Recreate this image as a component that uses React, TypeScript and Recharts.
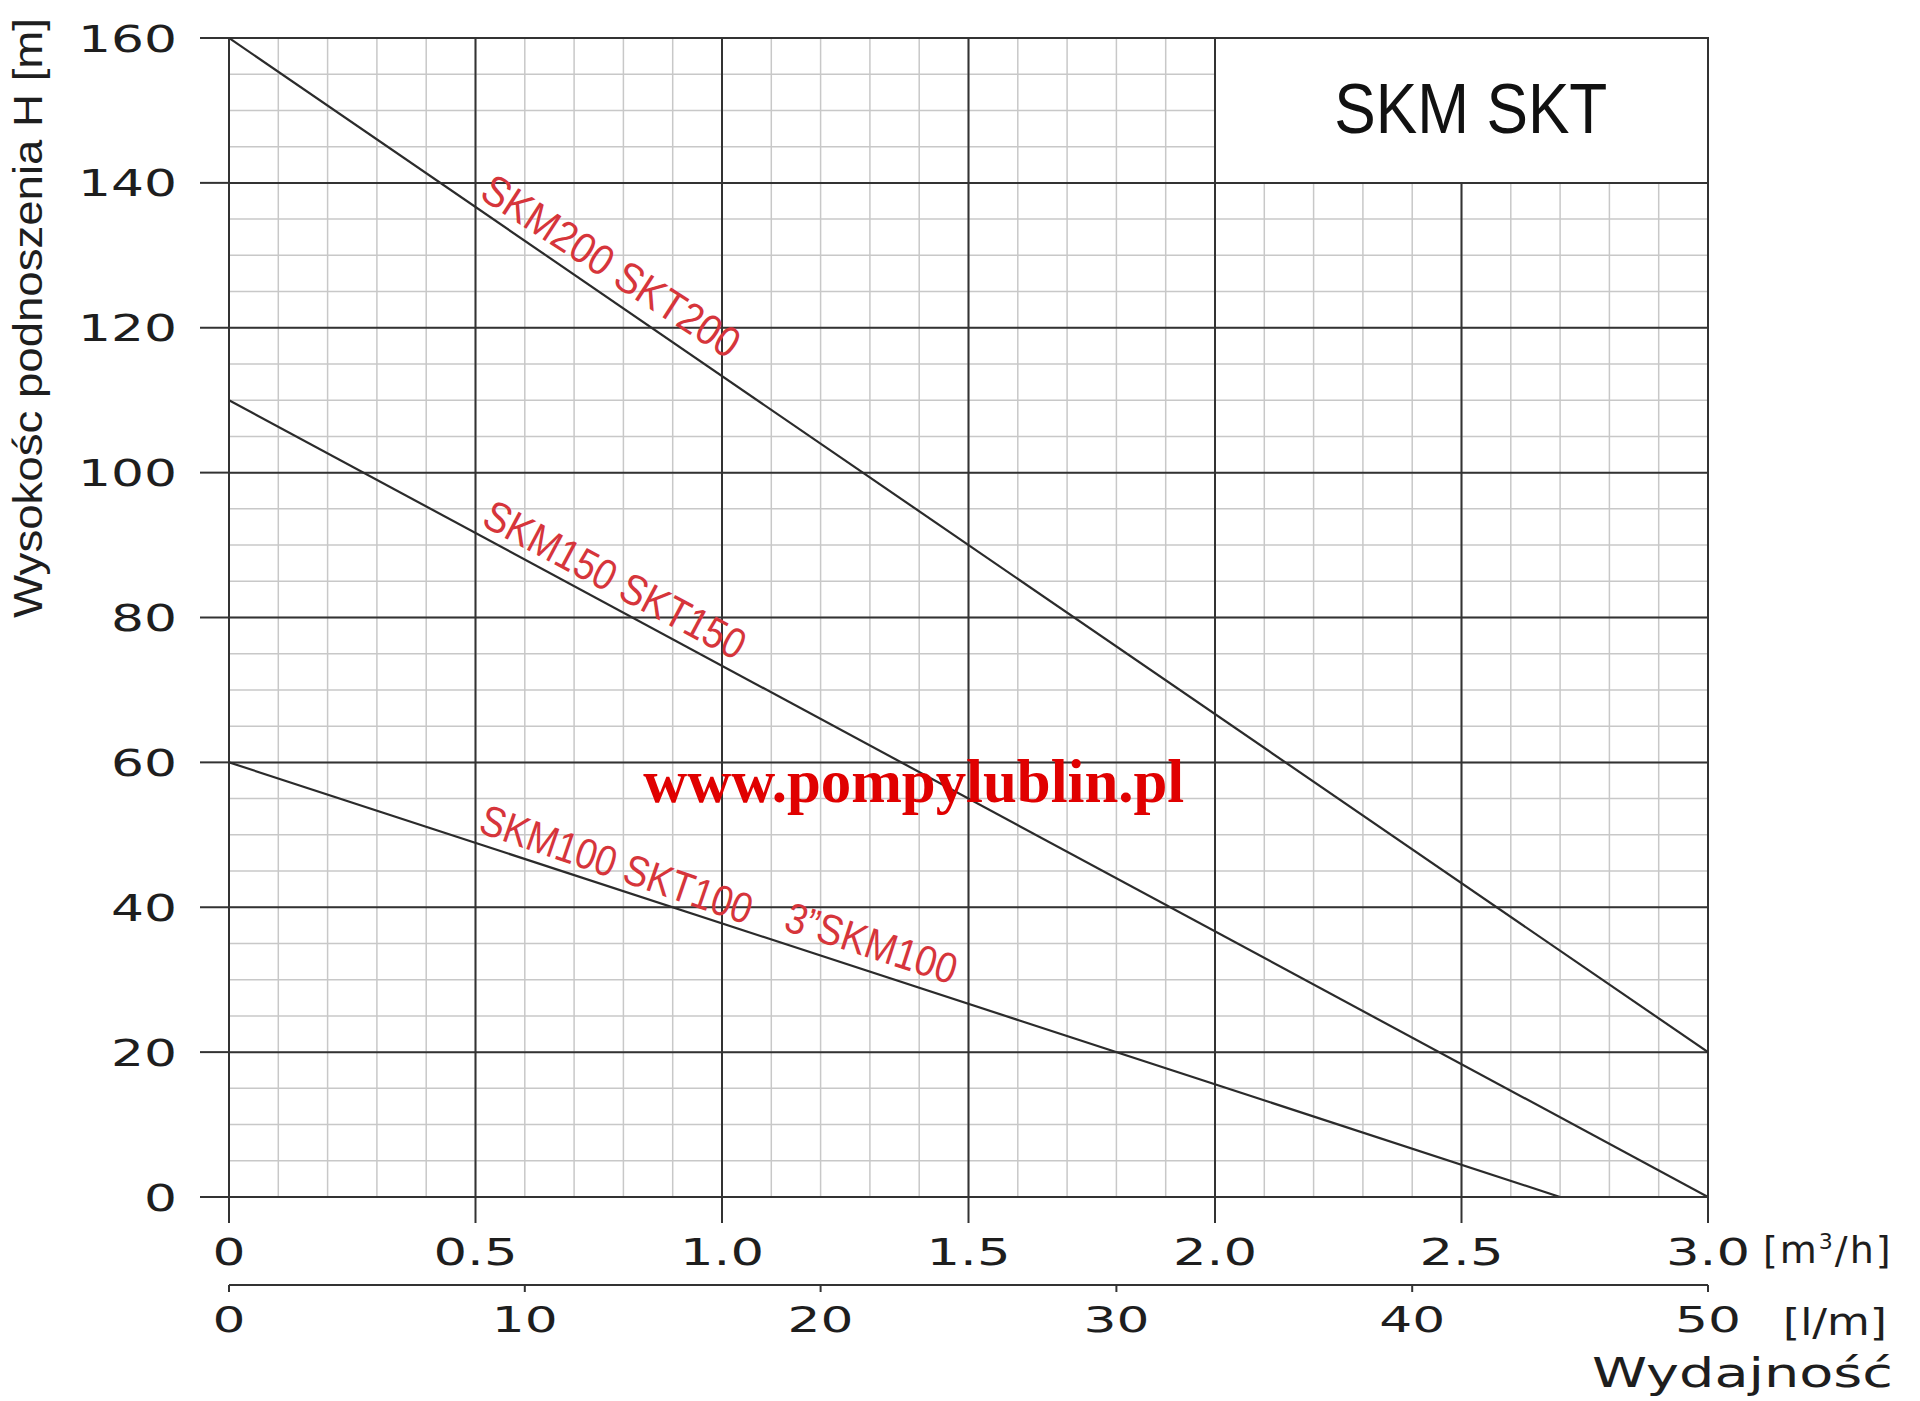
import React from 'react'
import {
  LineChart,
  Line,
  XAxis,
  YAxis,
  CartesianGrid,
  ReferenceArea,
  ReferenceDot,
  ReferenceLine,
} from 'recharts'

// flow [m3/h] ticks and their printed labels
const Q_TICKS = [0, 0.5, 1.0, 1.5, 2.0, 2.5, 3.0]
const Q_LABELS = ['0', '0.5', '1.0', '1.5', '2.0', '2.5', '3.0']
// flow [l/min] ticks
const LM_TICKS = [0, 10, 20, 30, 40, 50]
// head [m] ticks
const H_TICKS = [0, 20, 40, 60, 80, 100, 120, 140, 160]

// pump curves (straight lines on this sheet)
const SKM200_Q = [0, 3.0]
const SKM200_H = [160, 20]
const SKM150_Q = [0, 3.0]
const SKM150_H = [110, 0]
const SKM100_Q = [0, 2.7]
const SKM100_H = [60, 0]

// axis ranges (50 l/min = 3 m3/h)
const Q_RANGE = [0, 3]
const LM_RANGE = [0, 50]
const H_RANGE = [0, 160]

// fine grid
const MINOR_Q = Array.from({ length: 31 }, (_, i) => i / 10)
const MINOR_H = Array.from({ length: 33 }, (_, i) => i * 5)

const toPoints = (q: number[], h: number[]) => q.map((v, i) => ({ q: v, h: h[i] }))

const SKM200 = toPoints(SKM200_Q, SKM200_H)
const SKM150 = toPoints(SKM150_Q, SKM150_H)
const SKM100 = toPoints(SKM100_Q, SKM100_H)
const LM_BIND = LM_RANGE.map((v) => ({ lm: v, h: 0 }))

// the l/min scale sits below the plot; its baseline expressed in head units
const LM_AXIS_AT = -12.15

const CURVE_LABELS = [
  { text: 'SKM200 SKT200', q: 0.505, h: 138.0, angle: 33, len: 298 },
  { text: 'SKM150 SKT150', q: 0.509, h: 92.8, angle: 28, len: 290 },
  { text: 'SKM100 SKT100', q: 0.503, h: 50.4, angle: 19, len: 285 },
  { text: '3”SKM100', q: 1.122, h: 36.9, angle: 18, len: 178 },
]

const C = {
  major: '#333333',
  minor: '#c8c8c8',
  curve: '#2b2b2b',
  red:   '#d6353b',
  text:  '#1e1e1e',
}

const AXIS_STROKE = { stroke: C.major, strokeWidth: 2 }
const MARGIN = { top: 38, right: 212, bottom: 56, left: 0 }

const WIDE = 'DejaVu Sans, sans-serif'
const SANS = 'Liberation Sans, Arial, sans-serif'

const wideLen = (s: string) => s.split('').reduce((a, ch) => a + (ch === '.' ? 18 : 33), 0)

function HTick({ x, y, payload }: any) {
  const s = String(payload.value)
  return (
    <text x={x} y={y + 13.5} textAnchor="end" fontFamily={WIDE} fontSize={37} fill={C.text}
      textLength={wideLen(s)} lengthAdjust="spacingAndGlyphs">
      {s}
    </text>
  )
}

function QTick({ x, y, payload }: any) {
  const s = Q_LABELS[Q_TICKS.indexOf(payload.value)] ?? String(payload.value)
  return (
    <text x={x} y={y + 28} textAnchor="middle" fontFamily={WIDE} fontSize={37} fill={C.text}
      textLength={wideLen(s)} lengthAdjust="spacingAndGlyphs">
      {s}
    </text>
  )
}

// tick mark + label of the l/min scale
function lmTickShape(v: number) {
  return (p: any) => {
    const s = String(v)
    return (
      <g>
        <line x1={p.cx} y1={p.cy} x2={p.cx} y2={p.cy + 7} stroke={C.major} strokeWidth={2} />
        <text x={p.cx} y={p.cy + 47} textAnchor="middle" fontFamily={WIDE} fontSize={35} fill={C.text}
          textLength={wideLen(s)} lengthAdjust="spacingAndGlyphs">
          {s}
        </text>
      </g>
    )
  }
}

function curveLabel(l: typeof CURVE_LABELS[number]) {
  return (p: any) => (
    <text
      x={p.cx}
      y={p.cy}
      transform={`rotate(${l.angle} ${p.cx} ${p.cy})`}
      fontFamily={SANS}
      fontSize={43}
      fill={C.red}
      textLength={l.len}
      lengthAdjust="spacingAndGlyphs"
    >
      {l.text}
    </text>
  )
}

const titleShape = (p: any) => (
  <text x={p.cx} y={p.cy} textAnchor="middle" fontFamily={SANS} fontSize={71}
    fill="#111" textLength={273} lengthAdjust="spacingAndGlyphs">
    SKM SKT
  </text>
)

const watermarkShape = (p: any) => (
  <text x={p.cx} y={p.cy} textAnchor="middle" fontFamily="Liberation Serif, Times New Roman, serif"
    fontWeight="bold" fontSize={62} fill="#e00000" textLength={541} lengthAdjust="spacingAndGlyphs">
    www.pompylublin.pl
  </text>
)

export default function App() {
  return (
    <div style={{ position: 'absolute', left: 0, top: 0, width: 1920, height: 1401, background: '#fff' }}>
      <LineChart width={1920} height={1401} margin={MARGIN}>
        <XAxis
          xAxisId="q"
          type="number"
          dataKey="q"
          domain={Q_RANGE}
          ticks={Q_TICKS}
          interval={0}
          allowDataOverflow
          height={148}
          tickSize={26}
          tickMargin={14}
          tick={QTick}
          axisLine={AXIS_STROKE}
          tickLine={AXIS_STROKE}
        />
        <YAxis
          yAxisId="h"
          type="number"
          domain={H_RANGE}
          ticks={H_TICKS}
          interval={0}
          allowDataOverflow
          width={229}
          tickSize={29}
          tickMargin={23}
          tick={HTick}
          axisLine={AXIS_STROKE}
          tickLine={AXIS_STROKE}
        />
        {/* helper scales: l/min and the fine grid (no space reserved) */}
        <XAxis xAxisId="lm" type="number" dataKey="lm" domain={LM_RANGE} ticks={LM_TICKS}
          allowDataOverflow hide height={0} />
        <XAxis xAxisId="minor" type="number" dataKey="q" domain={Q_RANGE} ticks={MINOR_Q}
          allowDataOverflow hide height={0} />
        <YAxis yAxisId="minor" type="number" domain={H_RANGE} ticks={MINOR_H}
          allowDataOverflow hide width={0} />

        <CartesianGrid xAxisId="minor" yAxisId="minor" stroke={C.minor} strokeWidth={1.5} />
        <CartesianGrid xAxisId="q" yAxisId="h" stroke={C.major} strokeWidth={2} />

        {/* blank title box in the top-right corner */}
        <ReferenceArea xAxisId="q" yAxisId="h" x1={2} x2={3} y1={140} y2={160}
          fill="#ffffff" fillOpacity={1} stroke={C.major} strokeWidth={2} />
        <ReferenceArea xAxisId="q" yAxisId="h" x1={0} x2={3} y1={0} y2={160}
          fill="none" fillOpacity={0} stroke={C.major} strokeWidth={2} />

        {/* invisible series that binds the l/min scale */}
        <Line xAxisId="lm" yAxisId="h" data={LM_BIND} dataKey="h"
          stroke="none" dot={false} activeDot={false} isAnimationActive={false} />

        <Line xAxisId="q" yAxisId="h" data={SKM200} dataKey="h" type="linear"
          stroke={C.curve} strokeWidth={2.2} dot={false} activeDot={false} isAnimationActive={false} />
        <Line xAxisId="q" yAxisId="h" data={SKM150} dataKey="h" type="linear"
          stroke={C.curve} strokeWidth={2.2} dot={false} activeDot={false} isAnimationActive={false} />
        <Line xAxisId="q" yAxisId="h" data={SKM100} dataKey="h" type="linear"
          stroke={C.curve} strokeWidth={2.2} dot={false} activeDot={false} isAnimationActive={false} />

        {/* secondary flow scale in l/min */}
        <ReferenceLine
          xAxisId="lm"
          yAxisId="h"
          segment={[{ x: LM_RANGE[0], y: LM_AXIS_AT }, { x: LM_RANGE[1], y: LM_AXIS_AT }]}
          stroke={C.major}
          strokeWidth={2}
          ifOverflow="visible"
        />
        {LM_TICKS.map((v) => (
          <ReferenceDot key={`lm${v}`} xAxisId="lm" yAxisId="h" x={v} y={LM_AXIS_AT} r={1}
            ifOverflow="visible" shape={lmTickShape(v)} />
        ))}

        {CURVE_LABELS.map((l) => (
          <ReferenceDot key={l.text} xAxisId="q" yAxisId="h" x={l.q} y={l.h} r={1} shape={curveLabel(l)} />
        ))}

        {/* chart title */}
        <ReferenceDot xAxisId="q" yAxisId="h" x={2.519} y={146.9} r={1} shape={titleShape} />

        {/* watermark */}
        <ReferenceDot xAxisId="q" yAxisId="h" x={1.389} y={54.5} r={1} shape={watermarkShape} />
      </LineChart>

      {/* axis titles and units */}
      <svg width={1920} height={1401} style={{ position: 'absolute', left: 0, top: 0, pointerEvents: 'none' }}>
        <text x={42} y={318} transform="rotate(-90 42 318)" textAnchor="middle" fontFamily={SANS}
          fontSize={40} fill={C.text} textLength={600} lengthAdjust="spacingAndGlyphs">
          Wysokośc podnoszenia H [m]
        </text>
        <text x={1763} y={1263} fontFamily={WIDE} fontSize={38} fill={C.text} letterSpacing={2}>
          [m<tspan dy={-14} fontSize={22}>3</tspan><tspan dy={14}>/h]</tspan>
        </text>
        <text x={1783} y={1335} fontFamily={WIDE} fontSize={38} fill={C.text}
          textLength={104} lengthAdjust="spacingAndGlyphs">
          [l/m]
        </text>
        <text x={1592} y={1387} fontFamily={WIDE} fontSize={40} fill={C.text}
          textLength={301} lengthAdjust="spacingAndGlyphs">
          Wydajność
        </text>
      </svg>
    </div>
  )
}
